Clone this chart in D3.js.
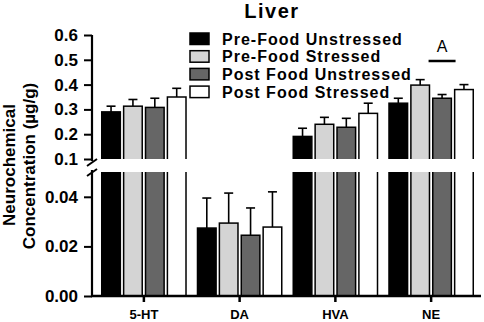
<!DOCTYPE html>
<html>
<head>
<meta charset="utf-8">
<script src="https://cdn.jsdelivr.net/npm/d3@7/dist/d3.min.js"></script>
<style>
  body { margin: 0; background: #fff; }
  svg { display: block; font-family: "Liberation Sans", Arial, sans-serif; }
</style>
</head>
<body>
<svg id="chart" width="484" height="322"></svg>
<script>
const categories = ["5-HT", "DA", "HVA", "NE"];
const groups = ["Pre-Food Unstressed", "Pre-Food Stressed", "Post Food Unstressed", "Post Food Stressed"];
const fills = ["#000000", "#d4d4d4", "#666666", "#ffffff"];

// means per group, one value per category
const preUnstressed  = [0.290, 0.0274, 0.191, 0.325];
const preStressed    = [0.313, 0.0294, 0.240, 0.398];
const postUnstressed = [0.308, 0.0245, 0.228, 0.345];
const postStressed   = [0.350, 0.0278, 0.284, 0.380];

// error (upper only)
const preUnstressedErr  = [0.023, 0.0121, 0.033, 0.020];
const preStressedErr    = [0.027, 0.0121, 0.028, 0.022];
const postUnstressedErr = [0.037, 0.0110, 0.036, 0.015];
const postStressedErr   = [0.035, 0.0142, 0.041, 0.020];

const upperTicks = [0.1, 0.2, 0.3, 0.4, 0.5, 0.6];
const lowerTicks = [0, 0.02, 0.04];

const means = [preUnstressed, preStressed, postUnstressed, postStressed];
const errs  = [preUnstressedErr, preStressedErr, postUnstressedErr, postStressedErr];

const svg = d3.select("#chart");

// broken y axis: two linear pieces
const yUp  = d3.scaleLinear().domain([0.1, 0.6]).range([159, 35]);
const yLow = d3.scaleLinear().domain([0, 0.05]).range([296, 172]);
const y = v => v >= 0.1 ? yUp(v) : yLow(v);

const x0 = d3.scaleBand().domain(categories).range([96, 479])
    .paddingInner(0.12).paddingOuter(0.06);
const x1 = d3.scaleBand().domain(groups).range([0, x0.bandwidth()]).paddingInner(0.15);

const data = [];
categories.forEach((c, ci) => {
    groups.forEach((g, gi) => {
        data.push({ cat: c, grp: g, gi: gi, v: means[gi][ci], e: errs[gi][ci] });
    });
});

// clip regions for the two panels, so bars are cut open at the break
const defs = svg.append("defs");
defs.append("clipPath").attr("id", "clipUp")
    .append("rect").attr("x", 0).attr("y", 0).attr("width", 484).attr("height", yUp(0.1));
defs.append("clipPath").attr("id", "clipLow")
    .append("rect").attr("x", 0).attr("y", yLow(0.05)).attr("width", 484).attr("height", 200);

// error bars
const eb = svg.append("g").attr("stroke", "#000").attr("stroke-width", 1.6);
data.forEach(d => {
    const cx = x0(d.cat) + x1(d.grp) + x1.bandwidth() / 2;
    const top = y(d.v + d.e);
    eb.append("line").attr("x1", cx).attr("x2", cx).attr("y1", y(d.v)).attr("y2", top);
    eb.append("line").attr("x1", cx - 4.5).attr("x2", cx + 4.5).attr("y1", top).attr("y2", top);
});

const barsUp = svg.append("g").attr("clip-path", "url(#clipUp)");
const barsLow = svg.append("g").attr("clip-path", "url(#clipLow)");
data.forEach(d => {
    const bx = x0(d.cat) + x1(d.grp);
    const w = x1.bandwidth();
    const lowTop = d.v >= 0.1 ? yLow(0.05) - 6 : yLow(d.v);
    barsLow.append("rect")
        .attr("x", bx).attr("y", lowTop)
        .attr("width", w).attr("height", yLow(0) - lowTop)
        .attr("fill", fills[d.gi])
        .attr("stroke", "#000").attr("stroke-width", 1.5);
    if (d.v >= 0.1) {
        barsUp.append("rect")
            .attr("x", bx).attr("y", yUp(d.v))
            .attr("width", w).attr("height", yUp(0.1) + 6 - yUp(d.v))
            .attr("fill", fills[d.gi])
            .attr("stroke", "#000").attr("stroke-width", 1.5);
    }
});

// y axes
const fmtUp = d3.format(".1f"), fmtLow = d3.format(".2f");
const axUp = svg.append("g").attr("transform", "translate(92,0)")
    .call(d3.axisLeft(yUp).tickValues(upperTicks).tickFormat(fmtUp).tickSize(8).tickSizeOuter(0).tickPadding(6));
const axLow = svg.append("g").attr("transform", "translate(92,0)")
    .call(d3.axisLeft(yLow).tickValues(lowerTicks).tickFormat(fmtLow).tickSize(8).tickSizeOuter(0).tickPadding(6));
[axUp, axLow].forEach(a => {
    a.select(".domain").attr("stroke-width", 2.2);
    a.selectAll(".tick line").attr("stroke-width", 2);
    a.selectAll(".tick text").attr("font-size", 17).attr("font-weight", "bold")
        .attr("font-family", "'Liberation Sans', Arial, sans-serif").attr("fill", "#000");
});
axUp.select(".domain").attr("d", `M0,${yUp(0.6)}V161`);
axLow.select(".domain").attr("d", `M0,170V${yLow(0)}`);

// break marks
[162, 172].forEach(yb => {
    svg.append("line").attr("x1", 87).attr("y1", yb + 4).attr("x2", 97).attr("y2", yb - 3)
        .attr("stroke", "#000").attr("stroke-width", 2);
});

// x axis
const axX = svg.append("g").attr("transform", `translate(0,${yLow(0)})`)
    .call(d3.axisBottom(x0).tickSize(6).tickSizeOuter(0).tickPadding(8));
axX.select(".domain").attr("d", "M91,0H481").attr("stroke-width", 2.5);
axX.selectAll(".tick line").attr("stroke-width", 2.5);
axX.selectAll(".tick text").attr("font-size", 13).attr("font-weight", "bold")
    .attr("font-family", "'Liberation Sans', Arial, sans-serif").attr("fill", "#000");

// y label
svg.append("text").attr("transform", "translate(15,165) rotate(-90)")
    .attr("text-anchor", "middle").attr("font-size", 17).attr("font-weight", "bold")
    .text("Neurochemical");
svg.append("text").attr("transform", "translate(35,166) rotate(-90)")
    .attr("text-anchor", "middle").attr("font-size", 17).attr("font-weight", "bold")
    .text("Concentration (µg/g)");

// title
svg.append("text").attr("x", 272).attr("y", 18).attr("text-anchor", "middle")
    .attr("font-size", 20).attr("font-weight", "bold").attr("letter-spacing", 1.5)
    .text("Liver");

// legend
const lg = svg.append("g");
groups.forEach((g, i) => {
    const ly = 33 + i * 17.7;
    lg.append("rect").attr("x", 190).attr("y", ly).attr("width", 19).attr("height", 11.5)
        .attr("fill", fills[i]).attr("stroke", "#000").attr("stroke-width", 1.5);
    lg.append("text").attr("x", 222).attr("y", ly + 11.5)
        .attr("font-size", 16).attr("font-weight", "bold").attr("letter-spacing", 1)
        .text(g);
});

// significance annotation over NE
const ax = x0("NE") + x1(groups[2]) + x1.bandwidth() / 2;
svg.append("line").attr("x1", ax - 13.5).attr("x2", ax + 13.5).attr("y1", 61).attr("y2", 61)
    .attr("stroke", "#000").attr("stroke-width", 2.5);
svg.append("text").attr("x", ax).attr("y", 52).attr("text-anchor", "middle")
    .attr("font-size", 16).text("A");
</script>
</body>
</html>
